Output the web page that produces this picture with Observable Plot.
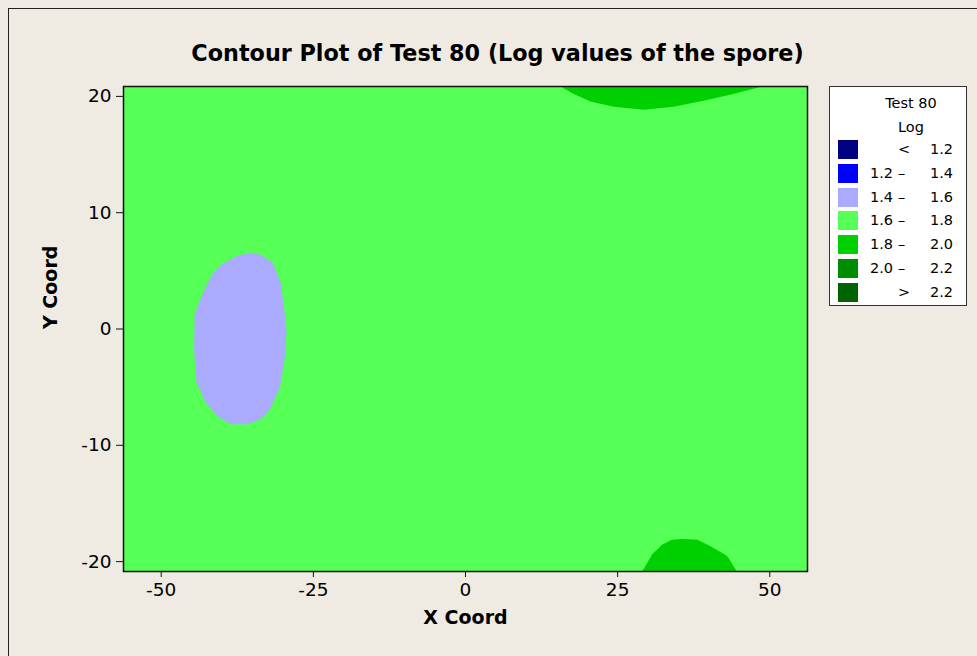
<!DOCTYPE html>
<html>
<head>
<meta charset="utf-8">
<script src="https://cdn.jsdelivr.net/npm/d3@7"></script>
<script src="https://cdn.jsdelivr.net/npm/@observablehq/plot@0.6"></script>
<style>
  html, body { margin: 0; padding: 0; background: #EFEBE2; }
  #wrap { position: relative; width: 977px; height: 656px; overflow: hidden; background: #EFEBE2; font-family: "DejaVu Sans", sans-serif; }
  #border { position: absolute; left: 8px; top: 8px; width: 980px; height: 660px; border-left: 1px solid #222; border-top: 1px solid #222; }
  #title { position: absolute; left: 0; width: 995px; top: 40px; text-align: center; font-weight: bold; font-size: 22.3px; color: #000; white-space: nowrap; }
  #chart { position: absolute; left: 0; top: 0; }
  #legend { position: absolute; left: 829px; top: 86px; width: 138px; height: 220px; background: #fff; border: 1px solid #333; box-sizing: border-box; }
  .lg-head { position: absolute; left: 40px; width: 82px; text-align: center; font-size: 14.5px; }
  .lg-sw { position: absolute; left: 8px; width: 20px; height: 19px; }
  .lg-t { position: absolute; font-size: 14.5px; line-height: 16px; white-space: nowrap; }
</style>
</head>
<body>
<div id="wrap">
  <div id="border"></div>
  <div id="title"></div>
  <div id="chart"></div>
  <div id="legend"></div>
</div>
<script>
// ---- Data ----
const titleText = "Contour Plot of Test 80 (Log values of the spore)";
const xLabel = "X Coord";
const yLabel = "Y Coord";
const legendTitle = ["Test 80", "Log"];
const levelLow  = [null, "1.2", "1.4", "1.6", "1.8", "2.0", null];
const levelHigh = ["1.2", "1.4", "1.6", "1.8", "2.0", "2.2", "2.2"];
const levelSign = ["<", "–", "–", "–", "–", "–", ">"];
const levelColors = ["#000080", "#0000FF", "#AAAAFF", "#55FF55", "#00D000", "#008C00", "#006400"];
const xTicks = [-50, -25, 0, 25, 50];
const yTicks = [-20, -10, 0, 10, 20];
const xDomain = [-56.2, 56.2];
const yDomain = [-20.85, 20.85];
const backgroundLevel = 3; // 1.6 – 1.8 covers the field

// low spot (1.4 – 1.6) on the left
const lowSpotX = [-35.3, -33.7, -31.7, -30.4, -29.8, -29.4, -29.7, -30.5, -32.3, -33.7, -35.9, -38.6, -40.8, -42.7, -44.2, -44.6, -44.5, -43.0, -41.6, -40.0, -37.5];
const lowSpotY = [6.58, 6.38, 5.72, 4.0, 1.85, -0.15, -2.45, -5.03, -7.04, -7.75, -8.18, -8.18, -7.47, -6.32, -4.6, -1.88, 1.28, 3.29, 4.72, 5.58, 6.3];
const lowSpotLevel = 2;

// high spot (1.8 – 2.0) along the top edge
const topSpotX = [15.6, 17.8, 20.5, 24.4, 29.3, 34.2, 39.7, 44.0, 48.4, 48.4, 15.6];
const topSpotY = [20.85, 20.21, 19.57, 19.11, 18.85, 19.11, 19.69, 20.21, 20.8, 21.5, 21.5];
const topSpotLevel = 4;

// high spot (1.8 – 2.0) along the bottom edge
const bottomSpotX = [29.0, 30.7, 32.3, 33.9, 35.6, 38.1, 40.2, 43.0, 44.6, 44.6, 29.0];
const bottomSpotY = [-20.86, -19.36, -18.56, -18.13, -18.05, -18.13, -18.65, -19.51, -20.86, -21.5, -21.5];
const bottomSpotLevel = 4;

// ---- Build ----
const toRows = (xs, ys) => xs.map((x, i) => ({x, y: ys[i]}));
const regions = [
  {rows: toRows(lowSpotX, lowSpotY), level: lowSpotLevel},
  {rows: toRows(topSpotX, topSpotY), level: topSpotLevel},
  {rows: toRows(bottomSpotX, bottomSpotY), level: bottomSpotLevel}
];
const fmt = d => String(d);

const plot = Plot.plot({
  width: 977,
  height: 656,
  marginLeft: 123,
  marginRight: 170,
  marginTop: 86,
  marginBottom: 85,
  style: {background: "transparent", fontFamily: "DejaVu Sans, sans-serif", color: "#000"},
  x: {domain: xDomain},
  y: {domain: yDomain},
  marks: [
    Plot.frame({fill: levelColors[backgroundLevel], stroke: null}),
    ...regions.map(r => Plot.line(r.rows, {x: "x", y: "y", curve: "linear-closed", fill: levelColors[r.level], stroke: null, clip: "frame"})),
    Plot.frame({stroke: "#111", strokeWidth: 1.5}),
    Plot.axisX({ticks: xTicks, tickFormat: fmt, tickSize: 6, tickPadding: 5, fontSize: 18.5, label: null, stroke: "#111"}),
    Plot.axisY({ticks: yTicks, tickFormat: fmt, tickSize: 7, tickPadding: 5, fontSize: 18.5, label: null, stroke: "#111"}),
    Plot.text([xLabel], {frameAnchor: "bottom", dy: 52, text: d => d, fontSize: 19, fontWeight: "bold"}),
    Plot.text([yLabel], {frameAnchor: "left", dx: -73, rotate: -90, text: d => d, fontSize: 19, fontWeight: "bold"})
  ]
});
document.getElementById("chart").appendChild(plot);
document.getElementById("title").textContent = titleText;

// ---- Legend ----
const lg = document.getElementById("legend");
legendTitle.forEach((t, i) => {
  const d = document.createElement("div");
  d.className = "lg-head";
  d.style.top = (8 + i * 24) + "px";
  d.textContent = t;
  lg.appendChild(d);
});
levelColors.forEach((c, i) => {
  const cy = 63 + i * 23.75;
  const sw = document.createElement("div");
  sw.className = "lg-sw";
  sw.style.top = (cy - 10) + "px";
  sw.style.background = c;
  lg.appendChild(sw);
  const add = (txt, left, align) => {
    const t = document.createElement("div");
    t.className = "lg-t";
    t.style.top = (cy - 9) + "px";
    if (align === "right") { t.style.right = left + "px"; } else { t.style.left = left + "px"; }
    t.textContent = txt;
    lg.appendChild(t);
  };
  if (levelLow[i]) add(levelLow[i], 40);
  add(levelSign[i], 68);
  add(levelHigh[i], 13, "right");
});
</script>
</body>
</html>
